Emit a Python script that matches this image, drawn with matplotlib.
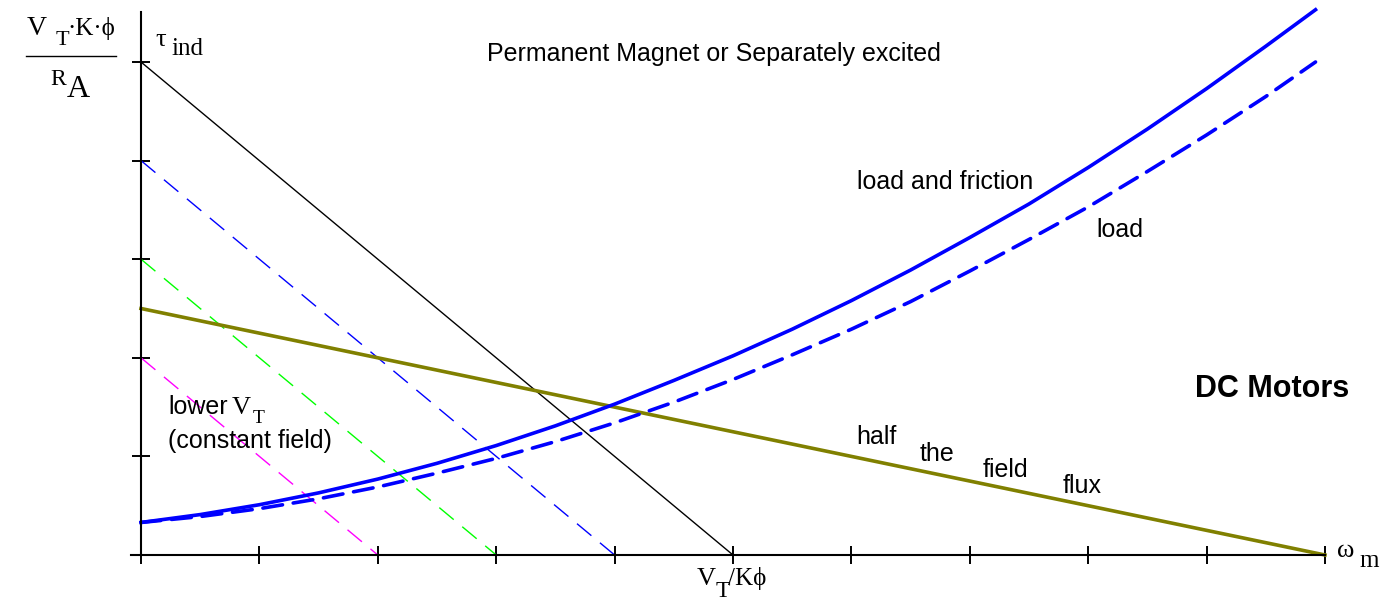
import matplotlib
matplotlib.use('Agg')
import matplotlib.pyplot as plt

# ----- DADOS
# retas de torque x velocidade (tau_ind vs omega_m)
full_vt = ([0, 5], [5, 0])          # V_T nominal
lower_vt_1 = ([0, 4], [4, 0])       # V_T menores (campo constante)
lower_vt_2 = ([0, 3], [3, 0])
lower_vt_3 = ([0, 2], [2, 0])
half_field = ([0, 10], [2.5, 0])    # metade do fluxo de campo

# curvas de carga
w_load = [0, 0.5, 1, 1.5, 2, 2.5, 3, 3.5, 4, 4.5, 5, 5.5, 6, 6.5, 7, 7.5, 8, 8.5, 9, 9.5, 9.92]
load_friction = [0.33, 0.41, 0.51, 0.63, 0.77, 0.93, 1.11, 1.31, 1.53, 1.77, 2.02, 2.29,
                 2.58, 2.89, 3.22, 3.56, 3.93, 4.32, 4.73, 5.16, 5.53]
load_only = [0.33, 0.39, 0.47, 0.57, 0.69, 0.83, 0.98, 1.15, 1.34, 1.55, 1.78, 2.03,
             2.29, 2.57, 2.88, 3.20, 3.53, 3.89, 4.26, 4.65, 5.00]

x_ticks = list(range(0, 11))
y_ticks = [1, 2, 3, 4, 5]

SERIF = 'Liberation Serif'
SANS = 'Liberation Sans'


def at(px, py):
    # pixel da figura -> coordenadas de dados
    return (px - 141) / 118.4, (555 - py) / 98.6


fig = plt.figure(figsize=(13.96, 6.0), dpi=100)
ax = fig.add_axes([0, 0, 1, 1])
ax.set_xlim(-141 / 118.4, (1396 - 141) / 118.4)
ax.set_ylim(-45 / 98.6, 555 / 98.6)

# ----- EIXOS
for s in ['top', 'right']:
    ax.spines[s].set_visible(False)
ax.spines['left'].set_position(('data', 0))
ax.spines['bottom'].set_position(('data', 0))
ax.spines['left'].set_bounds(0, 5.51)
ax.spines['bottom'].set_bounds(-0.085, 10)
ax.spines['left'].set_linewidth(1.5)
ax.spines['bottom'].set_linewidth(1.5)
ax.set_xticks(x_ticks)
ax.set_yticks(y_ticks)
ax.set_xticklabels([])
ax.set_yticklabels([])
ax.tick_params(direction='inout', length=12.5, width=1.4, color='black')

# ----- RETAS
ax.plot(*lower_vt_1, color='blue', lw=1.0, dashes=(13.5, 8))
ax.plot(*lower_vt_2, color='#00ff00', lw=1.0, dashes=(13.5, 8))
ax.plot(*lower_vt_3, color='#ff00ff', lw=1.0, dashes=(13.5, 8))
ax.plot(*full_vt, color='black', lw=1.0)
ax.plot(*half_field, color='#808000', lw=2.6)

# ----- CARGAS
ax.plot(w_load, load_only, color='blue', lw=2.6, dashes=(5.5, 3), dash_capstyle='round',
        dash_joinstyle='round')
ax.plot(w_load, load_friction, color='blue', lw=2.6, solid_joinstyle='round')

# ----- TEXTOS
def label(px, py, s, fam=SANS, size=18, **kw):
    ax.text(*at(px, py), s, family=fam, fontsize=size, ha='left', va='baseline', **kw)

label(487, 61, 'Permanent Magnet or Separately excited')
label(857, 189, 'load and friction')
label(1096, 237, 'load')
label(1195, 397, 'DC Motors', size=22, weight='bold')
label(856, 444, 'half')
label(920, 461, 'the')
label(983, 477, 'field')
label(1063, 493, 'flux')
label(168, 414, 'lower')
label(232, 414, 'V', fam=SERIF, size=19)
label(253, 423, 'T', fam=SERIF, size=14)
label(168, 448, '(constant field)')

# tau_ind e omega_m
label(155, 46, 'τ', fam=SERIF, size=19)
label(171, 55, 'ind', fam=SERIF, size=18)
label(1337, 557, 'ω', fam=SERIF, size=19)
label(1359, 567, 'm', fam=SERIF, size=18)

# V_T / K phi
label(697, 585, 'V', fam=SERIF, size=19)
label(716, 597, 'T', fam=SERIF, size=17)
label(728, 585, '/Kϕ', fam=SERIF, size=18)

# fracao V_T K phi / R_A
label(27, 35, 'V', fam=SERIF, size=20)
label(56, 45, 'T', fam=SERIF, size=16)
label(67, 35, '·K·ϕ', fam=SERIF, size=18)
ax.plot([at(26, 56)[0], at(116, 56)[0]], [at(26, 56)[1]] * 2, color='black', lw=1.0,
        clip_on=False)
label(50, 85, 'R', fam=SERIF, size=17)
label(67, 97, 'A', fam=SERIF, size=23)

fig.savefig('out.png', dpi=100)
